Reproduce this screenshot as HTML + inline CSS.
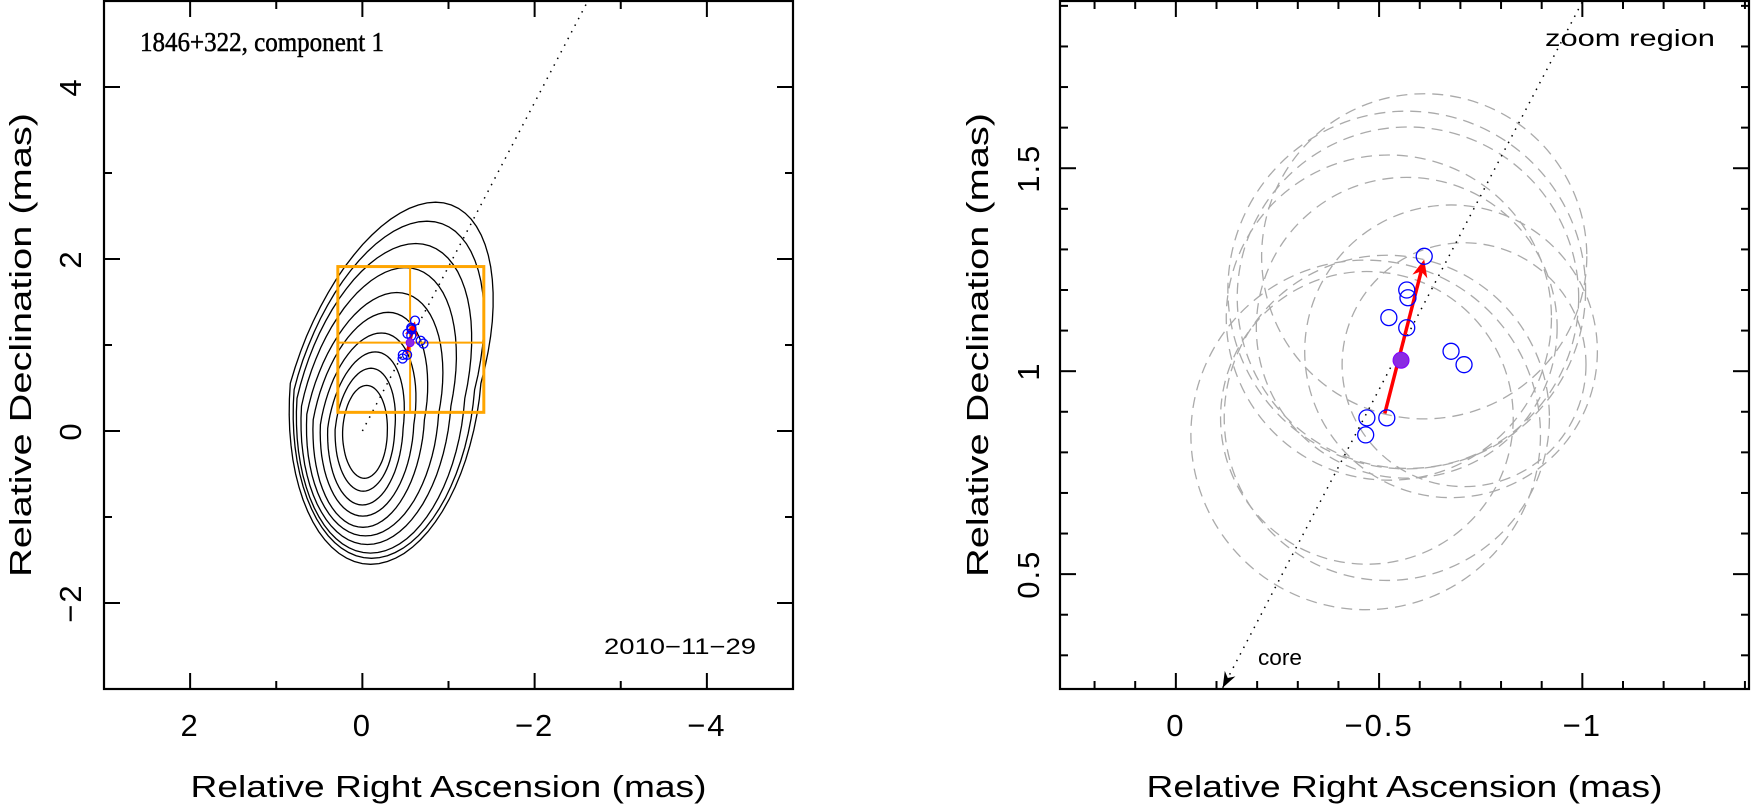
<!DOCTYPE html>
<html><head><meta charset="utf-8"><style>
html,body{margin:0;padding:0;background:#fff;}
svg{display:block;font-family:"Liberation Sans",sans-serif;}
</style></head><body>
<svg id="chart" width="1751" height="809" viewBox="0 0 1751 809" xmlns="http://www.w3.org/2000/svg"></svg>
<script>
// ---- data ----
const ptRA  = [-0.611,-0.568,-0.571,-0.524,-0.568,-0.677,-0.709,-0.470,-0.519,-0.467];
const ptDec = [ 1.283, 1.200, 1.181, 1.132, 1.107, 1.049, 1.016, 0.885, 0.885, 0.843];
const beamR = [0.40,0.44,0.42,0.40,0.37,0.36,0.30,0.36,0.40,0.43];
const meanRA = [-0.554];
const meanDec = [1.027];
const arrowRA = [-0.514,-0.611];
const arrowDec = [0.896,1.275];
const jetSlope = [-1.91];
const zoomBoxRA = [0.285,-1.41];
const zoomBoxDec = [0.217,1.912];
// contour shapes (inner -> outer): extents in mas
const cBottom = [-0.55,-0.70,-0.86,-0.99,-1.12,-1.22,-1.32,-1.42,-1.48,-1.55];
const cTop    = [0.53,0.73,0.92,1.14,1.38,1.61,1.90,2.18,2.44,2.66];
const cLeft   = [0.23,0.32,0.41,0.50,0.59,0.67,0.74,0.80,0.85,0.91];
const cRight  = [-0.29,-0.38,-0.48,-0.61,-0.74,-0.91,-1.06,-1.23,-1.36,-1.45];
const cApex   = [-0.05,-0.10,-0.15,-0.22,-0.30,-0.40,-0.50,-0.62,-0.75,-0.85];
const leftXTicks = [2,0,-2,-4];
const leftYTicks = [4,2,0,-2];
const rightXTicks = [0,-0.5,-1];
const rightXLabels = ["0","\u22120.5","\u22121"];
const rightYTicks = [1.5,1,0.5];
const rightYLabels = ["1.5","1","0.5"];

const NS="http://www.w3.org/2000/svg";
const svg=document.getElementById('chart');
function mk(tag,attrs,parent){const e=document.createElementNS(NS,tag);for(const k in attrs)e.setAttribute(k,attrs[k]);(parent||svg).appendChild(e);return e;}
function fmt(v){return (v<0?"\u2212":"")+Math.abs(v);}

function panel(P){
  const g=mk('g',{});
  
  
  const sx=v=>P.x0+(P.xmin-v)/(P.xmin-P.xmax)*P.w;
  const sy=v=>P.y0+(P.ymax-v)/(P.ymax-P.ymin)*P.h;
  P.sx=sx;P.sy=sy;P.g=g;
  const clipId='clip-'+P.name;
  const cp=mk('clipPath',{id:clipId},g);
  mk('rect',{x:P.x0,y:P.y0,width:P.w,height:P.h},cp);
  P.plot=mk('g',{'clip-path':'url(#'+clipId+')'},g);
  
  
  const tg=mk('g',{stroke:'#000','stroke-width':2},g);
  
  
  const eps=1e-6;
  const xs=Math.min(P.xmin,P.xmax), xe=Math.max(P.xmin,P.xmax);
  for(let v=Math.ceil(xs/P.minor)*P.minor; v<=xe+eps; v+=P.minor){
    const isMaj=Math.abs(v/P.major-Math.round(v/P.major))<1e-4;
    const L=isMaj?16:8, X=sx(v);
    mk('line',{x1:X,y1:P.y0+P.h,x2:X,y2:P.y0+P.h-L},tg);
    mk('line',{x1:X,y1:P.y0,x2:X,y2:P.y0+L},tg);
  }
  for(let v=Math.ceil(P.ymin/P.minor)*P.minor; v<=P.ymax+eps; v+=P.minor){
    const isMaj=Math.abs(v/P.major-Math.round(v/P.major))<1e-4;
    const L=isMaj?16:8, Y=sy(v);
    mk('line',{x1:P.x0,y1:Y,x2:P.x0+L,y2:Y},tg);
    mk('line',{x1:P.x0+P.w,y1:Y,x2:P.x0+P.w-L,y2:Y},tg);
  }
  P.xt.forEach((v,i)=>{
    const t=mk('text',{x:sx(v),y:736,'text-anchor':'middle','font-size':31,'letter-spacing':2,fill:'#000'},g);
    
    
    t.textContent=P.xl?P.xl[i]:fmt(v);
  });
  P.yt.forEach((v,i)=>{
    const X=P.ylx,Y=sy(v);
    const t=mk('text',{x:X,y:Y,'text-anchor':'middle','font-size':31,'letter-spacing':2,fill:'#000',transform:`rotate(-90 ${X} ${Y})`,dy:11},g);
    
    
    t.textContent=P.yl?P.yl[i]:fmt(v);
  });
  const xt=mk('text',{x:P.x0+P.w/2-258,y:797,'font-size':31,fill:'#000',textLength:516,lengthAdjust:'spacingAndGlyphs'},g);
  
  
  xt.textContent='Relative Right Ascension (mas)';
  const yx=P.ytx, yy=P.y0+P.h/2;
  const yt=mk('text',{x:yx-232,y:yy,'font-size':31,fill:'#000',transform:`rotate(-90 ${yx} ${yy})`,dy:11,textLength:464,lengthAdjust:'spacingAndGlyphs'},g);
  
  
  yt.textContent='Relative Declination (mas)';
  return P;
}

function frame(P){
  const f=mk('rect',{x:P.x0,y:P.y0,width:P.w,height:P.h,fill:'none',stroke:'#000','stroke-width':2.2},P.g);
  
  
}

function markers(P,r,rf,aw){
  const {sx,sy,plot}=P;
  const x1=sx(arrowRA[0]),y1=sy(arrowDec[0]),x2=sx(arrowRA[1]),y2=sy(arrowDec[1]);
  const ang=Math.atan2(y2-y1,x2-x1), hl=aw*5, hw=aw*2.2;
  const bx=x2-hl*Math.cos(ang), by=y2-hl*Math.sin(ang);
  const ar=mk('g',{},plot);
  
  
  mk('line',{x1:x1,y1:y1,x2:bx+hl*0.3*Math.cos(ang),y2:by+hl*0.3*Math.sin(ang),stroke:'#f00','stroke-width':aw},ar);
  mk('polygon',{points:`${x2},${y2} ${bx-hw*Math.sin(ang)},${by+hw*Math.cos(ang)} ${bx+hl*0.3*Math.cos(ang)},${by+hl*0.3*Math.sin(ang)} ${bx+hw*Math.sin(ang)},${by-hw*Math.cos(ang)}`,fill:'#f00'},ar);
  ptRA.forEach((v,i)=>{
    const c=mk('circle',{cx:sx(v),cy:sy(ptDec[i]),r:r,fill:'none',stroke:'#00f','stroke-width':1.3},plot);
    
    
  });
  const m=mk('circle',{cx:sx(meanRA[0]),cy:sy(meanDec[0]),r:rf,fill:'#8a2be2',stroke:'#8000ff'},plot);
  
  
}

// ---- left panel ----
const L=panel({name:'left-panel',x0:104,y0:1,w:689,h:688,xmin:3,xmax:-5,ymin:-3,ymax:5,major:2,minor:1,
  xt:leftXTicks,yt:leftYTicks,ylx:70,ytx:20});
cTop.forEach((t,i)=>{
  const cy=(t+cBottom[i])/2, b=(t-cBottom[i])/2;
  const cx=(cLeft[i]+cRight[i])/2, a=(cLeft[i]-cRight[i])/2;
  const s=(cApex[i]-cx)/b;
  const ae=Math.sqrt(Math.max(a*a-(s*b)*(s*b)*0.5,0.02));
  let d='';
  for(let k=0;k<=72;k++){
    const th=k/72*2*Math.PI;
    const yy=b*Math.sin(th);
    const xx=cx+ae*Math.cos(th)+s*Math.max(yy,yy*0.3);
    d+=(k?'L':'M')+L.sx(xx).toFixed(1)+','+L.sy(cy+yy).toFixed(1);
  }
  const p=mk('path',{d:d+'Z',fill:'none',stroke:'#000','stroke-width':1.3},L.plot);
  
  
});
{
  const yTop=5.2, xTop=yTop/jetSlope[0];
  const jl=mk('line',{x1:L.sx(0),y1:L.sy(0),x2:L.sx(xTop),y2:L.sy(yTop),stroke:'#000','stroke-width':1.5,'stroke-dasharray':'1.5 6'},L.plot);
  
  
}
{
  const bx1=L.sx(zoomBoxRA[0]),bx2=L.sx(zoomBoxRA[1]),by1=L.sy(zoomBoxDec[1]),by2=L.sy(zoomBoxDec[0]);
  const zg=mk('g',{stroke:'#ffa500',fill:'none'},L.plot);
  
  
  mk('rect',{x:bx1,y:by1,width:bx2-bx1,height:by2-by1,'stroke-width':3},zg);
  const mx=L.sx(meanRA[0]), my=L.sy(meanDec[0]);
  mk('line',{x1:mx,y1:by1,x2:mx,y2:by2,'stroke-width':2},zg);
  mk('line',{x1:bx1,y1:my,x2:bx2,y2:my,'stroke-width':2},zg);
}
markers(L,4.5,4,3);
frame(L);
{
  const t=mk('text',{x:140,y:51,'font-size':27,'font-family':'"Liberation Serif",serif',fill:'#000',stroke:'#000','stroke-width':0.5,textLength:244,lengthAdjust:'spacingAndGlyphs'},L.g);
  
  
  t.textContent='1846+322, component 1';
  const d=mk('text',{x:604,y:654,'font-size':22,fill:'#000',textLength:152,lengthAdjust:'spacingAndGlyphs'},L.g);
  
  
  d.textContent='2010\u221211\u221229';
}

// ---- right panel ----
const R=panel({name:'right-panel',x0:1060,y0:1,w:689,h:688,xmin:zoomBoxRA[0],xmax:zoomBoxRA[1],ymin:zoomBoxDec[0],ymax:zoomBoxDec[1],major:0.5,minor:0.1,
  xt:rightXTicks,xl:rightXLabels,yt:rightYTicks,yl:rightYLabels,ylx:1028,ytx:977});
ptRA.forEach((v,i)=>{
  const c=mk('circle',{cx:R.sx(v),cy:R.sy(ptDec[i]),r:(R.sx(0)-R.sx(beamR[i])),fill:'none',stroke:'#aaa','stroke-width':1.3,'stroke-dasharray':'11 7'},R.plot);
  
  
});
{
  const yb=zoomBoxDec[0]+0.003, xb=yb/jetSlope[0];
  const yt=2.0, xt=yt/jetSlope[0];
  const jl=mk('line',{x1:R.sx(xb),y1:R.sy(yb),x2:R.sx(xt),y2:R.sy(yt),stroke:'#000','stroke-width':1.5,'stroke-dasharray':'1.5 6'},R.plot);
  
  
  const X=R.sx(xb),Y=R.sy(yb);
  const ang=Math.atan2(Y-R.sy(yt),X-R.sx(xt));
  const hl=16,hw=6,bx=X-hl*Math.cos(ang),by=Y-hl*Math.sin(ang);
  const ah=mk('polygon',{points:`${X},${Y} ${bx-hw*Math.sin(ang)},${by+hw*Math.cos(ang)} ${bx+5*Math.cos(ang)},${by+5*Math.sin(ang)} ${bx+hw*Math.sin(ang)},${by-hw*Math.cos(ang)}`,fill:'#000'},R.g);
  
  
  const ct=mk('text',{x:1258,y:665,'font-size':22,fill:'#000',textLength:44,lengthAdjust:'spacingAndGlyphs'},R.g);
  
  
  ct.textContent='core';
  const zt=mk('text',{x:1545,y:46,'font-size':23,fill:'#000',textLength:170,lengthAdjust:'spacingAndGlyphs'},R.g);
  
  
  zt.textContent='zoom region';
}
markers(R,8,8,3.5);
frame(R);
</script>
</body></html>
